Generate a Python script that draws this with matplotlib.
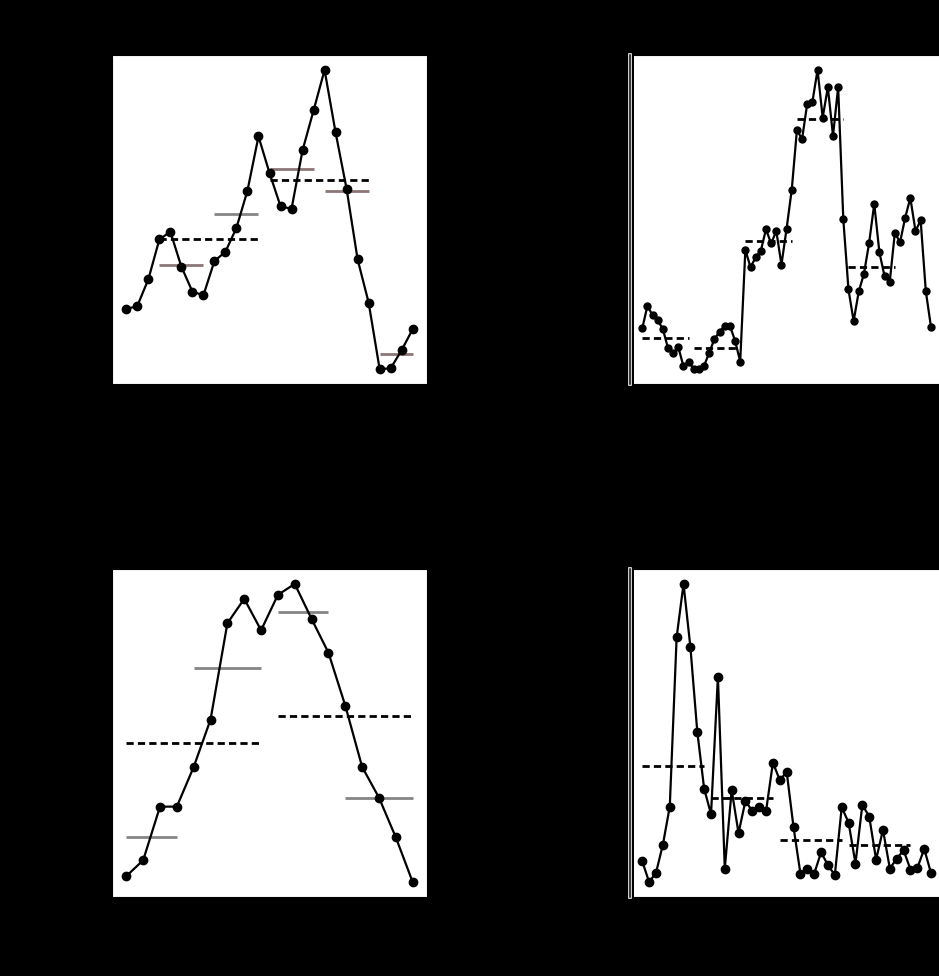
import matplotlib
matplotlib.use('Agg')
import matplotlib.pyplot as plt
import matplotlib.patheffects as pe
import numpy as np

# ---- top-left panel ----
tl_values = [22.0, 23.0, 31.0, 43.0, 45.3, 34.8, 27.3, 26.2, 36.5, 39.3, 46.5, 57.7, 74.0, 63.0,
             53.0, 52.2, 69.8, 81.8, 94.0, 75.2, 58.2, 37.0, 24.0, 4.0, 4.2, 9.7, 16.0]
tl_seg_start = [3, 8, 13, 18, 23]
tl_seg_end = [7, 12, 17, 22, 26]
tl_seg_level = [35.3, 50.8, 64.2, 57.7, 8.5]
tl_seg_color = ['#8c7676', '#858585', '#8c7676', '#8c7676', '#8c7676']
tl_dash_start = [3, 13]
tl_dash_end = [12, 22]
tl_dash_level = [43.0, 60.8]

# ---- top-right panel ----
tr_values = [0.664, 0.930, 0.820, 0.762, 0.656, 0.430, 0.371, 0.441, 0.215, 0.273,
             0.184, 0.184, 0.223, 0.379, 0.539, 0.625, 0.695, 0.695, 0.520, 0.273,
             1.594, 1.387, 1.504, 1.582, 1.836, 1.668, 1.816, 1.418, 1.844, 2.305,
             3.008, 2.902, 3.320, 3.340, 3.719, 3.156, 3.516, 2.941, 3.516, 1.953,
             1.125, 0.750, 1.102, 1.309, 1.672, 2.137, 1.563, 1.281, 1.211, 1.797,
             1.680, 1.973, 2.207, 1.816, 1.941, 1.105, 0.684]
tr_dash_start = [0, 10, 20, 30, 40]
tr_dash_end = [9, 19, 29, 39, 49]
tr_dash_level = [0.555, 0.432, 1.695, 3.137, 1.39]

# ---- bottom-left panel ----
bl_values = [5.0, 9.8, 26.0, 26.0, 38.0, 52.3, 81.4, 88.8, 79.3, 90.0, 93.3, 82.7, 72.5,
             56.5, 38.0, 28.7, 16.7, 3.2]
bl_seg_start = [0, 4, 9, 13]
bl_seg_end = [3, 8, 12, 17]
bl_seg_level = [16.8, 68.0, 84.7, 28.6]
bl_dash_start = [0, 9]
bl_dash_end = [8, 17]
bl_dash_level = [45.3, 53.5]

# ---- bottom-right panel ----
br_values = [0.316, 0.104, 0.199, 0.485, 0.872, 2.596, 3.138, 2.495, 1.636, 1.054,
             0.795, 2.195, 0.242, 1.040, 0.603, 0.929, 0.828, 0.865, 0.828, 1.320,
             1.141, 1.226, 0.660, 0.189, 0.242, 0.189, 0.407, 0.276, 0.175, 0.865,
             0.710, 0.293, 0.889, 0.771, 0.333, 0.636, 0.242, 0.343, 0.428, 0.232,
             0.249, 0.441, 0.192]
br_dash_start = [0, 10, 20, 30]
br_dash_end = [9, 19, 29, 39]
br_dash_level = [1.286, 0.96, 0.535, 0.485]

DASH = (0, (2.6, 1.5))


def draw_series(ax, values, ms):
    x = np.arange(len(values))
    ax.plot(x, values, color='black', lw=1.6, marker='o', ms=ms, zorder=3)


def draw_dashes(ax, starts, ends, levels):
    for s, e, lv in zip(starts, ends, levels):
        ax.hlines(lv, s, e, colors='black', lw=2, linestyles=DASH, zorder=2)


def draw_segments(ax, starts, ends, levels, colors):
    for s, e, lv, c in zip(starts, ends, levels, colors):
        ax.hlines(lv, s, e, colors=c, lw=2, zorder=1)


def style_right(ax):
    ax.spines['left'].set_position(('outward', 3))
    ax.spines['left'].set_linewidth(1.1)
    ax.spines['left'].set_path_effects(
        [pe.Stroke(linewidth=2.6, foreground='white'), pe.Normal()])
    ax.tick_params(axis='y', left=True, length=3.5, color='black')


fig = plt.figure(figsize=(9.39, 9.76), dpi=100)
fig.patch.set_facecolor('black')

w = 315 / 939
ax_tl = fig.add_axes([112 / 939, 1 - 384 / 976, w, 329 / 976])
ax_tr = fig.add_axes([634 / 939, 1 - 384 / 976, w, 329 / 976])
ax_bl = fig.add_axes([112 / 939, 1 - 897 / 976, w, 328 / 976])
ax_br = fig.add_axes([634 / 939, 1 - 897 / 976, w, 328 / 976])

for ax in (ax_tl, ax_tr, ax_bl, ax_br):
    ax.set_facecolor('white')
    ax.tick_params(colors='black', labelcolor='black')

# top-left
draw_series(ax_tl, tl_values, 6)
draw_segments(ax_tl, tl_seg_start, tl_seg_end, tl_seg_level, tl_seg_color)
draw_dashes(ax_tl, tl_dash_start, tl_dash_end, tl_dash_level)

# top-right
draw_series(ax_tr, tr_values, 5)
draw_dashes(ax_tr, tr_dash_start, tr_dash_end, tr_dash_level)
ax_tr.set_xlim(-1.6, 59.5)
ax_tr.set_yticks([1, 2, 3])
style_right(ax_tr)

# bottom-left
draw_series(ax_bl, bl_values, 6)
draw_segments(ax_bl, bl_seg_start, bl_seg_end, bl_seg_level, ['#858585'] * 4)
draw_dashes(ax_bl, bl_dash_start, bl_dash_end, bl_dash_level)

# bottom-right
draw_series(ax_br, br_values, 6)
draw_dashes(ax_br, br_dash_start, br_dash_end, br_dash_level)
ax_br.set_xlim(-1.2, 44.6)
ax_br.set_yticks([0, 1, 2, 3])
style_right(ax_br)

fig.savefig('out.png', dpi=100, facecolor='black')
